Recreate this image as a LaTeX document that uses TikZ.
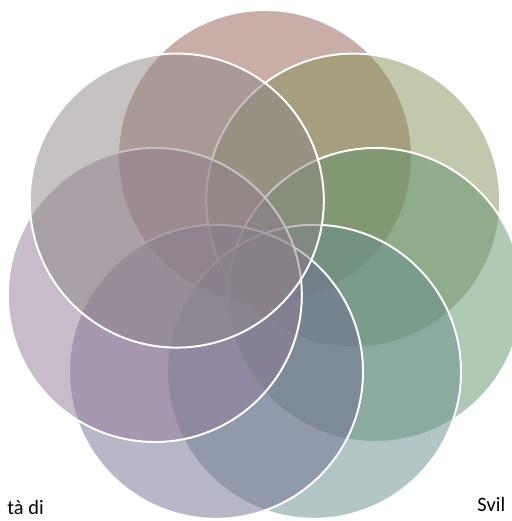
\documentclass[tikz,border=0pt]{standalone}
\usepackage{fontspec}
\setmainfont{Carlito}
\usepackage{xcolor}
\usepackage{tikz}
\usetikzlibrary{positioning}
\definecolor{vrose}{HTML}{935B4F}
\definecolor{volive}{HTML}{859157}
\definecolor{vgreen}{HTML}{5D9369}
\definecolor{vteal}{HTML}{678D8D}
\definecolor{vslate}{HTML}{716D93}
\definecolor{vmauve}{HTML}{917997}
\definecolor{vgrey}{HTML}{8D8585}
\tikzset{
  petal/.style={fill=#1, fill opacity=0.5, draw=white, line width=1.4pt},
  lbl/.style={font=\fontsize{14.5}{17}\selectfont, text=black, inner sep=0pt}
}

\begin{document}
\begin{tikzpicture}[x=1cm, y=1cm]
\useasboundingbox (0,0) rectangle (12.775,13.025);
% ring of seven circles, drawn from the top clockwise
\filldraw[petal=vrose]  (6.625,9.10) circle (3.675);
\filldraw[petal=volive] (8.83,8.01) circle (3.675);
\filldraw[petal=vgreen] (9.38,5.65) circle (3.675);
\filldraw[petal=vteal]  (7.85,3.73) circle (3.675);
\filldraw[petal=vslate] (5.40,3.73) circle (3.675);
\filldraw[petal=vmauve] (3.87,5.65) circle (3.675);
\filldraw[petal=vgrey]  (4.42,8.01) circle (3.675);
% labels at the page edge
\node[lbl, anchor=base east] (ltail) at (1.10,0.16) {tà di};
\node[lbl, anchor=base west] (rhead) at (11.93,0.23) {Svil};
\end{tikzpicture}
\end{document}
